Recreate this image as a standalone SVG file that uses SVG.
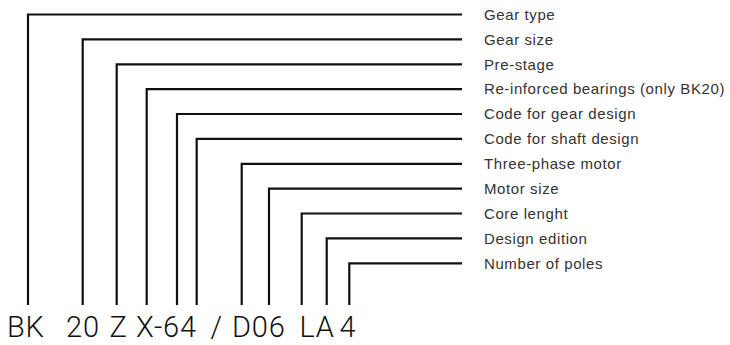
<svg xmlns="http://www.w3.org/2000/svg" width="730" height="345" viewBox="0 0 730 345">
<style>
.c{fill:none;stroke:#111;stroke-width:2.2;stroke-linejoin:miter;stroke-linecap:butt}
.l{font-family:"Liberation Sans",Arial,sans-serif;font-size:15px;letter-spacing:0.6px;fill:#333}
.k{font-family:Roboto,"Liberation Sans",sans-serif;font-weight:300;font-size:29px;letter-spacing:0.8px;fill:#111}
</style>
<rect width="730" height="345" fill="#fff"/>
<g id="connectors">
<path class="c" d="M28,305V14.5H462"/>
<path class="c" d="M82.7,305V39.4H462"/>
<path class="c" d="M116.7,305V64.3H462"/>
<path class="c" d="M146.7,305V89.1H462"/>
<path class="c" d="M177,305V114H462"/>
<path class="c" d="M196.7,305V138.9H462"/>
<path class="c" d="M241.7,305V163.8H462"/>
<path class="c" d="M269,305V188.7H462"/>
<path class="c" d="M301.7,305V213.5H462"/>
<path class="c" d="M326.7,305V238.4H462"/>
<path class="c" d="M349.3,305V263.3H462"/>
</g>
<g id="code">
<text class="k" y="337"><tspan x="7">BK</tspan><tspan x="66">20</tspan><tspan x="109.5">Z</tspan><tspan x="136">X-64</tspan><tspan x="210.5">/</tspan><tspan x="232">D06</tspan><tspan x="299.5">LA</tspan><tspan x="339.5">4</tspan></text>
</g>
<g id="label-gear-type"><text class="l" x="484" y="19.7">Gear type</text></g>
<g id="label-gear-size"><text class="l" x="484" y="44.6">Gear size</text></g>
<g id="label-pre-stage"><text class="l" x="484" y="69.5">Pre-stage</text></g>
<g id="label-bearings"><text class="l" x="484" y="94.3">Re-inforced bearings (only BK20)</text></g>
<g id="label-gear-design"><text class="l" x="484" y="119.2">Code for gear design</text></g>
<g id="label-shaft-design"><text class="l" x="484" y="144.1">Code for shaft design</text></g>
<g id="label-motor"><text class="l" x="484" y="169">Three-phase motor</text></g>
<g id="label-motor-size"><text class="l" x="484" y="193.9">Motor size</text></g>
<g id="label-core"><text class="l" x="484" y="218.7">Core lenght</text></g>
<g id="label-edition"><text class="l" x="484" y="243.6">Design edition</text></g>
<g id="label-poles"><text class="l" x="484" y="268.5">Number of poles</text></g>
</svg>
